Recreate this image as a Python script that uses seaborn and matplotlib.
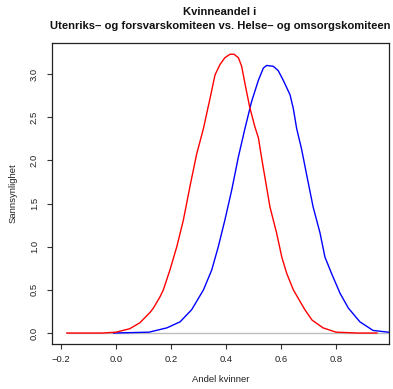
import matplotlib
matplotlib.use("Agg")
import matplotlib.pyplot as plt
import seaborn as sns
import pandas as pd

sns.set_theme(style="white")
plt.rcParams['font.family'] = ['Liberation Sans', 'DejaVu Sans']

red_x = [-0.18, -0.05, 0.0, 0.05, 0.087, 0.124, 0.136, 0.16, 0.172, 0.196, 0.221, 0.245,
         0.269, 0.293, 0.318, 0.342, 0.36, 0.378, 0.396, 0.415, 0.429, 0.445, 0.457, 0.469,
         0.486, 0.505, 0.518, 0.53, 0.545, 0.56, 0.584, 0.603, 0.621, 0.645, 0.687, 0.713,
         0.753, 0.80, 0.88, 0.95]
red_y = [0.0, 0.0, 0.01, 0.05, 0.12, 0.24, 0.29, 0.42, 0.50, 0.73, 1.00, 1.31,
         1.70, 2.07, 2.37, 2.72, 2.99, 3.11, 3.19, 3.23, 3.23, 3.19, 3.09, 2.89,
         2.62, 2.39, 2.26, 2.02, 1.74, 1.46, 1.16, 0.88, 0.69, 0.50, 0.27, 0.15,
         0.06, 0.01, 0.0, 0.0]

blue_x = [-0.01, 0.12, 0.185, 0.233, 0.275, 0.318, 0.348, 0.372, 0.396, 0.421, 0.445, 0.469,
          0.493, 0.518, 0.536, 0.548, 0.572, 0.59, 0.608, 0.633, 0.645, 0.657, 0.675, 0.693,
          0.717, 0.742, 0.76, 0.784, 0.815, 0.845, 0.887, 0.935, 0.99, 1.01]
blue_y = [0.0, 0.01, 0.06, 0.13, 0.27, 0.50, 0.73, 1.00, 1.31, 1.66, 2.04, 2.37,
          2.68, 2.93, 3.07, 3.10, 3.09, 3.04, 2.93, 2.76, 2.60, 2.37, 2.13, 1.84,
          1.46, 1.16, 0.88, 0.69, 0.46, 0.29, 0.13, 0.03, 0.01, 0.005]

x_ticks = [-0.2, 0.0, 0.2, 0.4, 0.6, 0.8]
x_tick_labels = ["\u22120.2", "0.0", "0.2", "0.4", "0.6", "0.8"]
y_ticks = [0.0, 0.5, 1.0, 1.5, 2.0, 2.5, 3.0]
y_tick_labels = ["0.0", "0.5", "1.0", "1.5", "2.0", "2.5", "3.0"]

red_df = pd.DataFrame({"x": red_x, "y": red_y})
blue_df = pd.DataFrame({"x": blue_x, "y": blue_y})

fig = plt.figure(figsize=(3.93, 3.89), dpi=100)
ax = fig.add_axes([52/393, 45/389, (389-52)/393, (344-43)/389])

ax.plot([red_x[0], 1.05], [0, 0], color="#BEBEBE", lw=1.0, zorder=1)
sns.lineplot(data=red_df, x="x", y="y", ax=ax, color="red", lw=1.0, sort=False,
             estimator=None, zorder=3, solid_joinstyle="round")
sns.lineplot(data=blue_df, x="x", y="y", ax=ax, color="blue", lw=1.0, sort=False,
             estimator=None, zorder=2, solid_joinstyle="round")

ax.set_xlim(-0.233, 0.993)
ax.set_ylim(-0.127, 3.36)
ax.set_xticks(x_ticks)
ax.set_xticklabels(x_tick_labels)
ax.set_yticks(y_ticks)
ax.set_yticklabels(y_tick_labels, rotation=90, va="center")
ax.tick_params(axis="x", direction="out", length=3.5, width=0.8, color="#333333",
               labelsize=6.8, pad=4.5, bottom=True, labelcolor="#222222")
ax.tick_params(axis="y", direction="out", length=3.5, width=0.8, color="#333333",
               labelsize=6.8, pad=6, left=True, labelcolor="#222222")
for s in ax.spines.values():
    s.set_color("#222222")
    s.set_linewidth(0.9)
    s.set_visible(True)

ax.set_xlabel("Andel kvinner", fontsize=6.8, labelpad=8, color="#222222")
ax.set_ylabel("Sannsynlighet", fontsize=6.8, labelpad=8.5, color="#222222")
fig.text(220/393, 1 - 12/389, "Kvinneandel i", ha="center", va="center",
         fontsize=8.1, fontweight="bold", color="#111111")
fig.text(220/393, 1 - 26/389, "Utenriks\u2013 og forsvarskomiteen vs. Helse\u2013 og omsorgskomiteen",
         ha="center", va="center", fontsize=8.1, fontweight="bold", color="#111111")

fig.savefig("out.png", dpi=100)
